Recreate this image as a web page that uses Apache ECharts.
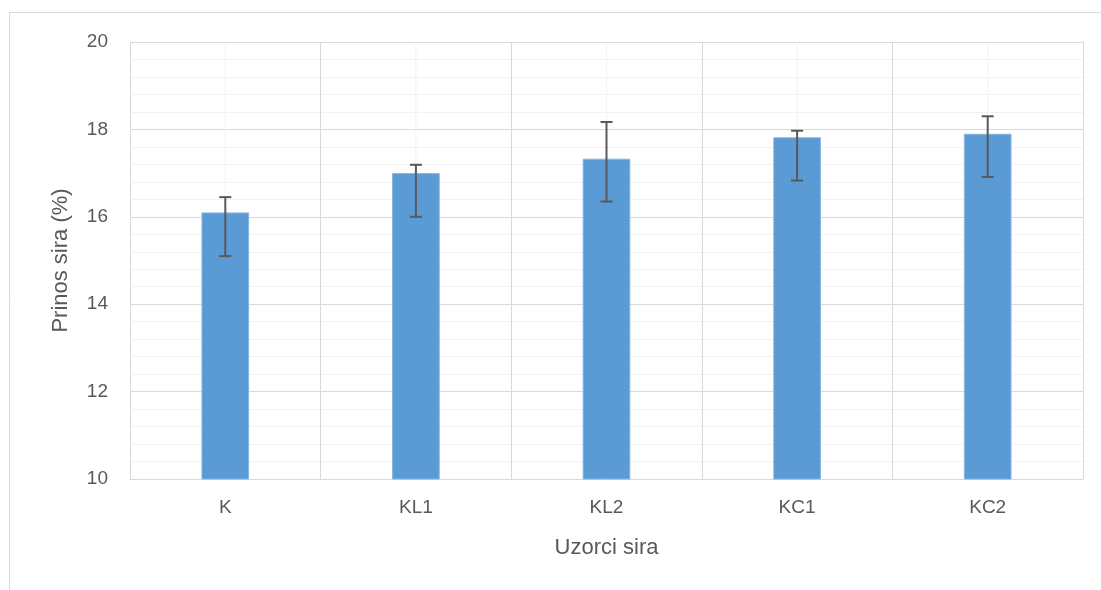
<!DOCTYPE html>
<html>
<head>
<meta charset="utf-8">
<script src="https://cdn.jsdelivr.net/npm/echarts@6/dist/echarts.min.js"></script>
<style>html,body{margin:0;padding:0;background:#fff;}#c{width:1101px;height:590px;}</style>
</head>
<body>
<div id="c"></div>
<script>
var categories = ['K', 'KL1', 'KL2', 'KC1', 'KC2'];
var values = [16.10, 17.00, 17.33, 17.82, 17.90];
var errHigh = [16.45, 17.19, 18.17, 17.97, 18.30];
var errLow = [15.10, 16.00, 16.35, 16.83, 16.91];
var yTicks = { min: 10, max: 20, interval: 2 };

var chart = echarts.init(document.getElementById('c'));
var font = 'Liberation Sans';
var errData = categories.map(function (c, i) { return [i, errLow[i], errHigh[i]]; });
var centerData = categories.map(function (c, i) { return [i]; });

chart.setOption({
  animation: false,
  graphic: [{
    type: 'rect', shape: { x: 9.5, y: 12.5, width: 1200, height: 700 },
    style: { fill: 'none', stroke: '#D9D9D9', lineWidth: 1 }, silent: true, z: -10
  }],
  grid: { left: 130, right: 18, top: 42, bottom: 111, containLabel: false },
  xAxis: {
    type: 'category', data: categories,
    name: 'Uzorci sira', nameLocation: 'middle', nameGap: 58,
    nameTextStyle: { fontFamily: font, fontSize: 22, color: '#595959' },
    axisLine: { show: true, lineStyle: { color: '#D9D9D9', width: 1 } },
    axisTick: { show: false },
    axisLabel: { fontFamily: font, fontSize: 19, color: '#595959', margin: 19 },
    splitLine: { show: true, lineStyle: { color: '#D9D9D9', width: 1 } }
  },
  yAxis: {
    type: 'value', min: yTicks.min, max: yTicks.max, interval: yTicks.interval,
    name: 'Prinos sira (%)', nameLocation: 'middle', nameGap: 58, nameRotate: 90,
    nameTextStyle: { fontFamily: font, fontSize: 22, color: '#595959' },
    axisLine: { show: false }, axisTick: { show: false },
    axisLabel: { fontFamily: font, fontSize: 19, color: '#595959', margin: 22 },
    splitLine: { show: true, lineStyle: { color: '#D9D9D9', width: 1 } },
    minorTick: { show: false, splitNumber: 5 },
    minorSplitLine: { show: true, lineStyle: { color: '#F2F2F2', width: 1 } }
  },
  series: [
    {
      type: 'custom', data: centerData, z: 1, silent: true,
      renderItem: function (params, api) {
        var x = api.value(0);
        var top = api.coord([x, yTicks.max]);
        var bot = api.coord([x, yTicks.min]);
        return { type: 'line', shape: { x1: top[0], y1: top[1], x2: bot[0], y2: bot[1] },
                 style: { stroke: '#F2F2F2', lineWidth: 1 } };
      }
    },
    {
      type: 'bar', data: values, barWidth: '25%', z: 2,
      itemStyle: { color: '#5B9BD5', borderColor: '#86B5E2', borderWidth: 1 }
    },
    {
      type: 'custom', data: errData, z: 3,
      renderItem: function (params, api) {
        var x = api.value(0);
        var lo = api.coord([x, api.value(1)]);
        var hi = api.coord([x, api.value(2)]);
        var hw = 6;
        var st = { stroke: '#595959', lineWidth: 2 };
        return {
          type: 'group', children: [
            { type: 'line', shape: { x1: lo[0], y1: lo[1], x2: hi[0], y2: hi[1] }, style: st },
            { type: 'line', shape: { x1: lo[0] - hw, y1: lo[1], x2: lo[0] + hw, y2: lo[1] }, style: st },
            { type: 'line', shape: { x1: hi[0] - hw, y1: hi[1], x2: hi[0] + hw, y2: hi[1] }, style: st }
          ]
        };
      }
    }
  ]
});
</script>
</body>
</html>
